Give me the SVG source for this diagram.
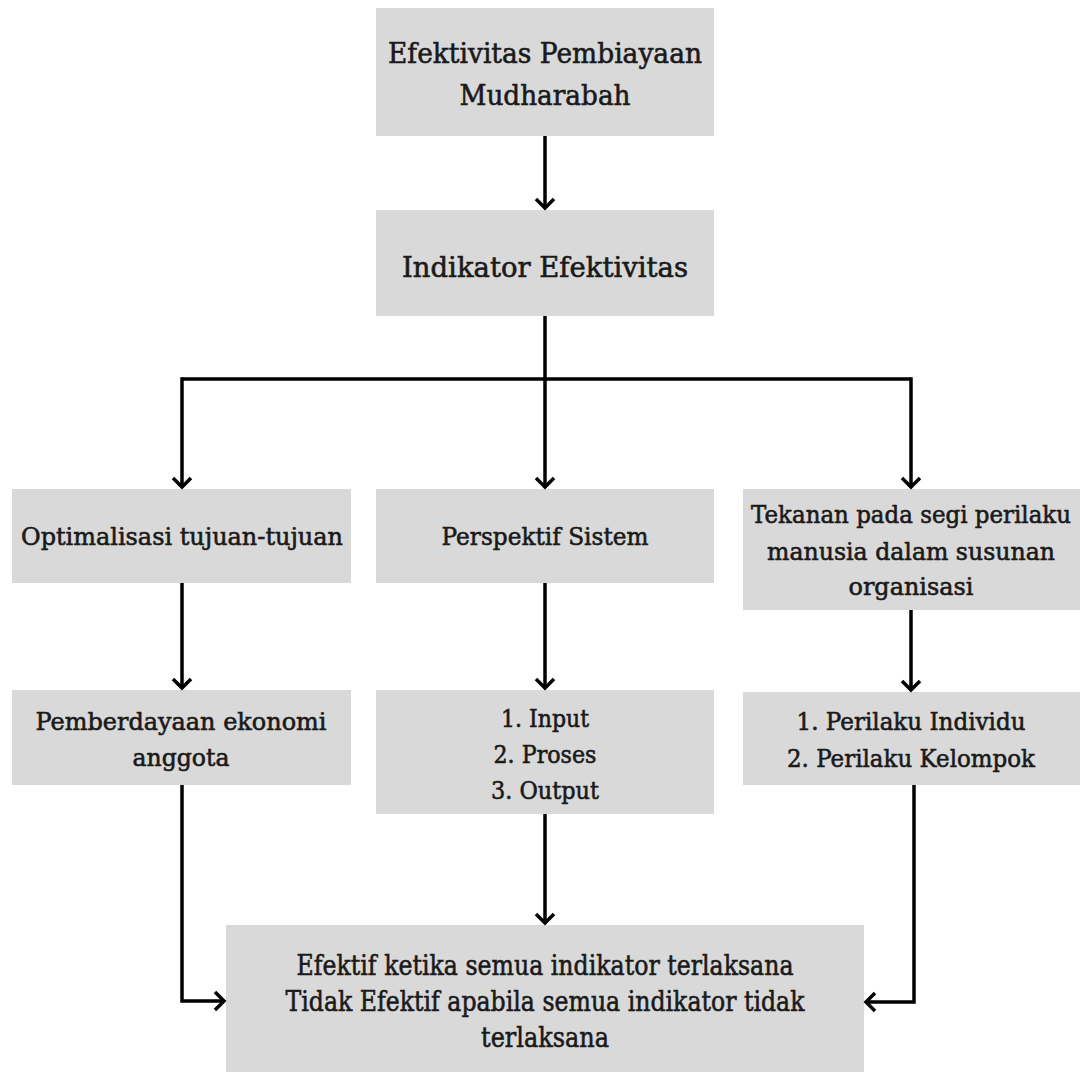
<svg xmlns="http://www.w3.org/2000/svg" width="1083" height="1072" viewBox="0 0 1083 1072">
<style>
.box{fill:#d9d9d9;}
.t{font-family:"DejaVu Serif","Liberation Serif",serif;fill:#1a1a1a;stroke:#1a1a1a;stroke-width:0.6;text-anchor:middle;}
.l{font-size:28px;}
.m{font-size:24.5px;}
.b{font-size:27px;}
.c{fill:none;stroke:#000;stroke-width:3.5;}
</style>
<defs>
<marker id="arr" markerUnits="userSpaceOnUse" markerWidth="24" markerHeight="24" viewBox="-12 -12 24 24" refX="0" refY="0" orient="auto">
<path d="M-9,-9 L0,0 L-9,9" fill="none" stroke="#000" stroke-width="3.5" stroke-linejoin="miter"/>
</marker>
</defs>
<rect width="1083" height="1072" fill="#fff"/>
<g id="n-efektivitas">
<rect class="box" x="376" y="8" width="338" height="128"/>
<text class="t l" x="545" y="63" textLength="314" lengthAdjust="spacingAndGlyphs">Efektivitas Pembiayaan</text>
<text class="t l" x="545" y="105" textLength="171" lengthAdjust="spacingAndGlyphs">Mudharabah</text>
</g>
<g id="n-indikator">
<rect class="box" x="376" y="210" width="338" height="106"/>
<text class="t l" x="545" y="277" textLength="286" lengthAdjust="spacingAndGlyphs">Indikator Efektivitas</text>
</g>
<g id="n-optimalisasi">
<rect class="box" x="12" y="489" width="339" height="94"/>
<text class="t m" x="182" y="545" textLength="322" lengthAdjust="spacingAndGlyphs">Optimalisasi tujuan-tujuan</text>
</g>
<g id="n-perspektif">
<rect class="box" x="376" y="489" width="338" height="94"/>
<text class="t m" x="545" y="545" textLength="207" lengthAdjust="spacingAndGlyphs">Perspektif Sistem</text>
</g>
<g id="n-tekanan">
<rect class="box" x="743" y="489" width="337" height="121"/>
<text class="t m" x="911" y="523" textLength="320" lengthAdjust="spacingAndGlyphs">Tekanan pada segi perilaku</text>
<text class="t m" x="911" y="560" textLength="288" lengthAdjust="spacingAndGlyphs">manusia dalam susunan</text>
<text class="t m" x="911" y="595" textLength="125" lengthAdjust="spacingAndGlyphs">organisasi</text>
</g>
<g id="n-pemberdayaan">
<rect class="box" x="12" y="690" width="339" height="95"/>
<text class="t m" x="181" y="730" textLength="291" lengthAdjust="spacingAndGlyphs">Pemberdayaan ekonomi</text>
<text class="t m" x="181" y="766" textLength="97" lengthAdjust="spacingAndGlyphs">anggota</text>
</g>
<g id="n-ipo">
<rect class="box" x="376" y="690" width="338" height="124"/>
<text class="t m" x="545" y="727" textLength="88" lengthAdjust="spacingAndGlyphs">1. Input</text>
<text class="t m" x="545" y="763" textLength="103" lengthAdjust="spacingAndGlyphs">2. Proses</text>
<text class="t m" x="545" y="799" textLength="108" lengthAdjust="spacingAndGlyphs">3. Output</text>
</g>
<g id="n-perilaku">
<rect class="box" x="743" y="692" width="337" height="93"/>
<text class="t m" x="911" y="730" textLength="229" lengthAdjust="spacingAndGlyphs">1. Perilaku Individu</text>
<text class="t m" x="911" y="767" textLength="248" lengthAdjust="spacingAndGlyphs">2. Perilaku Kelompok</text>
</g>
<g id="n-hasil">
<rect class="box" x="226" y="925" width="638" height="147"/>
<text class="t b" x="545" y="975" textLength="497" lengthAdjust="spacingAndGlyphs">Efektif ketika semua indikator terlaksana</text>
<text class="t b" x="545" y="1011" textLength="519" lengthAdjust="spacingAndGlyphs">Tidak Efektif apabila semua indikator tidak</text>
<text class="t b" x="545" y="1047" textLength="128" lengthAdjust="spacingAndGlyphs">terlaksana</text>
</g>
<g id="connectors">
<path class="c" d="M545,136 V208" marker-end="url(#arr)"/>
<path class="c" d="M545,316 V379"/>
<path class="c" d="M182,379 H911"/>
<path class="c" d="M182,377.25 V487" marker-end="url(#arr)"/>
<path class="c" d="M545,379 V487" marker-end="url(#arr)"/>
<path class="c" d="M911,377.25 V487" marker-end="url(#arr)"/>
<path class="c" d="M182,583 V688" marker-end="url(#arr)"/>
<path class="c" d="M545,583 V688" marker-end="url(#arr)"/>
<path class="c" d="M911,610 V690" marker-end="url(#arr)"/>
<path class="c" d="M182,785 V1001 H224" marker-end="url(#arr)"/>
<path class="c" d="M545,814 V923" marker-end="url(#arr)"/>
<path class="c" d="M914,785 V1002 H866" marker-end="url(#arr)"/>
</g>
</svg>
